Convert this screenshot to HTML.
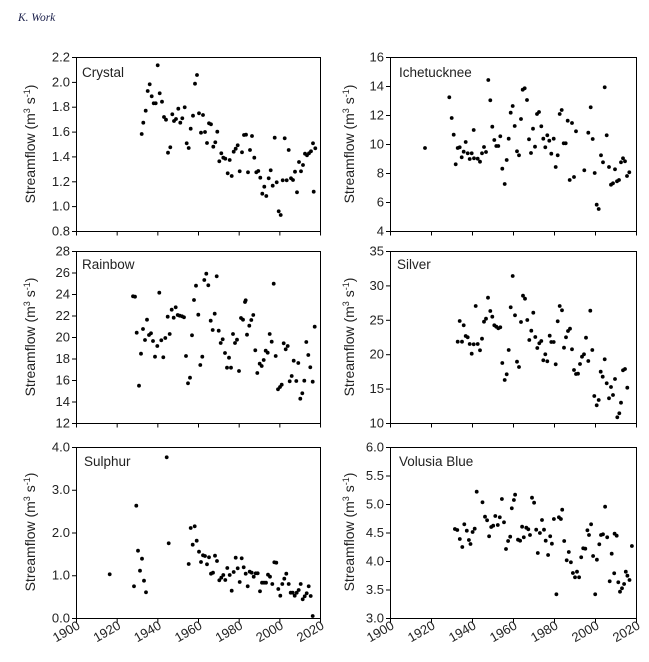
<!DOCTYPE html>
<html><head><meta charset="utf-8"><style>
html,body{margin:0;padding:0;background:#fff;}
svg{display:block;font-family:"Liberation Sans",sans-serif;}
.t{font-size:13px;fill:#222;}
.yl{font-size:14px;fill:#222;}
.nm{font-size:13.5px;fill:#222;}
</style></head><body>
<svg id="s" width="649" height="662" viewBox="0 0 649 662" xmlns="http://www.w3.org/2000/svg">
<text x="18" y="21" font-family="Liberation Serif,serif" font-style="italic" font-size="11.5" fill="#1a1f4a">K. Work</text>
<g fill="none" stroke="#000" stroke-width="1">
<rect x="76.5" y="57.5" width="244" height="174"/>
<rect x="390.5" y="57.5" width="246" height="174"/>
<rect x="76.5" y="251.5" width="244" height="172"/>
<rect x="390.5" y="251.5" width="246" height="172"/>
<rect x="76.5" y="447.5" width="244" height="171"/>
<rect x="390.5" y="447.5" width="246" height="171"/>
</g>
<g id="ticks" stroke="#000" stroke-width="1"></g>
<g id="dots" fill="#000"></g>
<!-- panel names -->
<text class="nm" x="82" y="77">Crystal</text>
<text class="nm" x="399" y="77">Ichetucknee</text>
<text class="nm" x="82" y="269">Rainbow</text>
<text class="nm" x="397" y="269">Silver</text>
<text class="nm" x="84" y="466">Sulphur</text>
<text class="nm" x="399" y="466">Volusia Blue</text>
<!-- y labels -->
<text class="yl" transform="translate(35,144) rotate(-90)" text-anchor="middle">Streamflow (m<tspan dy="-5" font-size="9">3</tspan><tspan dy="5"> s</tspan><tspan dy="-5" font-size="9">-1</tspan><tspan dy="5">)</tspan></text>
<text class="yl" transform="translate(354,144) rotate(-90)" text-anchor="middle">Streamflow (m<tspan dy="-5" font-size="9">3</tspan><tspan dy="5"> s</tspan><tspan dy="-5" font-size="9">-1</tspan><tspan dy="5">)</tspan></text>
<text class="yl" transform="translate(35,337) rotate(-90)" text-anchor="middle">Streamflow (m<tspan dy="-5" font-size="9">3</tspan><tspan dy="5"> s</tspan><tspan dy="-5" font-size="9">-1</tspan><tspan dy="5">)</tspan></text>
<text class="yl" transform="translate(354,337) rotate(-90)" text-anchor="middle">Streamflow (m<tspan dy="-5" font-size="9">3</tspan><tspan dy="5"> s</tspan><tspan dy="-5" font-size="9">-1</tspan><tspan dy="5">)</tspan></text>
<text class="yl" transform="translate(35,532) rotate(-90)" text-anchor="middle">Streamflow (m<tspan dy="-5" font-size="9">3</tspan><tspan dy="5"> s</tspan><tspan dy="-5" font-size="9">-1</tspan><tspan dy="5">)</tspan></text>
<text class="yl" transform="translate(354,532) rotate(-90)" text-anchor="middle">Streamflow (m<tspan dy="-5" font-size="9">3</tspan><tspan dy="5"> s</tspan><tspan dy="-5" font-size="9">-1</tspan><tspan dy="5">)</tspan></text>
<!-- y tick labels -->
<g class="t" text-anchor="end">
<text x="70" y="235.5">0.8</text><text x="70" y="210.6">1.0</text><text x="70" y="185.8">1.2</text><text x="70" y="160.9">1.4</text><text x="70" y="136.1">1.6</text><text x="70" y="111.2">1.8</text><text x="70" y="86.4">2.0</text><text x="70" y="61.5">2.2</text>
<text x="384" y="235.5">4</text><text x="384" y="206.5">6</text><text x="384" y="177.5">8</text><text x="384" y="148.5">10</text><text x="384" y="119.5">12</text><text x="384" y="90.5">14</text><text x="384" y="61.5">16</text>
<text x="70" y="427.5">12</text><text x="70" y="406">14</text><text x="70" y="384.5">16</text><text x="70" y="363">18</text><text x="70" y="341.5">20</text><text x="70" y="320">22</text><text x="70" y="298.5">24</text><text x="70" y="277">26</text><text x="70" y="255.5">28</text>
<text x="384" y="427.5">10</text><text x="384" y="393.1">15</text><text x="384" y="358.7">20</text><text x="384" y="324.3">25</text><text x="384" y="289.9">30</text><text x="384" y="255.5">35</text>
<text x="70" y="622.5">0.0</text><text x="70" y="579.7">1.0</text><text x="70" y="537">2.0</text><text x="70" y="494.2">3.0</text><text x="70" y="451.5">4.0</text>
<text x="384" y="622.5">3.0</text><text x="384" y="594">3.5</text><text x="384" y="565.5">4.0</text><text x="384" y="537">4.5</text><text x="384" y="508.5">5.0</text><text x="384" y="480">5.5</text><text x="384" y="451.5">6.0</text>
</g>
<!-- x tick labels -->
<g class="t" text-anchor="end">
<text transform="translate(81,628) rotate(-30)">1900</text>
<text transform="translate(121.7,628) rotate(-30)">1920</text>
<text transform="translate(162.3,628) rotate(-30)">1940</text>
<text transform="translate(203,628) rotate(-30)">1960</text>
<text transform="translate(243.7,628) rotate(-30)">1980</text>
<text transform="translate(284.3,628) rotate(-30)">2000</text>
<text transform="translate(325,628) rotate(-30)">2020</text>
<text transform="translate(395,628) rotate(-30)">1900</text>
<text transform="translate(436,628) rotate(-30)">1920</text>
<text transform="translate(477,628) rotate(-30)">1940</text>
<text transform="translate(518,628) rotate(-30)">1960</text>
<text transform="translate(559,628) rotate(-30)">1980</text>
<text transform="translate(600,628) rotate(-30)">2000</text>
<text transform="translate(641,628) rotate(-30)">2020</text>
</g>
</svg>
<script>
(function(){
var NS="http://www.w3.org/2000/svg";
var tk=document.getElementById("ticks"),dg=document.getElementById("dots");
function L(x1,y1,x2,y2){var l=document.createElementNS(NS,"line");l.setAttribute("x1",x1);l.setAttribute("y1",y1);l.setAttribute("x2",x2);l.setAttribute("y2",y2);tk.appendChild(l);}
var yt={L1:[231,206.1,181.3,156.4,131.6,106.7,81.9,57],R1:[231,202,173,144,115,86,57],L2:[423,401.5,380,358.5,337,315.5,294,272.5,251],R2:[423,388.6,354.2,319.8,285.4,251],L3:[618,575.25,532.5,489.75,447],R3:[618,589.5,561,532.5,504,475.5,447]};
function yticks(x,a){a.forEach(function(y){L(x-4,y+.5,x+.5,y+.5);});}
yticks(76,yt.L1);yticks(390,yt.R1);yticks(76,yt.L2);yticks(390,yt.R2);yticks(76,yt.L3);yticks(390,yt.R3);
[231.5,423.5,618.5].forEach(function(y){for(var i=0;i<7;i++){var xl=76.5+i*40.67,xr=390.5+i*41;L(xl,y,xl,y+4);L(xr,y,xr,y+4);}});
function dots(ox,oy,sx,sy,pts){pts.forEach(function(p){var c=document.createElementNS(NS,"circle");c.setAttribute("cx",(ox+p[0]*sx).toFixed(1));c.setAttribute("cy",(oy+p[1]*sy).toFixed(1));c.setAttribute("r","1.9");dg.appendChild(c);});}
var t=1/3;
dots(0,40,t,t,[[425,282],[430,248],[437,212],[443,153],[449,133],[455,169],[461,190],[467,190],[473,76],[479,160],[486,185],[492,231],[498,239],[504,338],[511,322],[517,223],[522,243],[528,237],[535,206],[541,248],[547,235],[554,202],[560,310],[566,324],[572,266],[579,227],[585,131],[591,105],[597,220],[603,278],[609,225],[615,276],[621,309],[627,250],[633,253],[640,320],[646,307],[652,275],[658,364],[664,340],[670,353],[676,356],[683,400],[689,360],[695,408],[701,335],[707,326],[713,316],[719,394],[726,337],[732,285],[738,284],[744,397],[750,330],[756,288],[763,353],[769,397],[775,393],[781,413],[787,461],[793,440],[799,468],[806,415],[812,391],[818,437],[824,293],[830,427],[836,514],[842,525],[848,421],[854,295],[860,421],[866,330],[873,415],[879,420],[885,395],[891,457],[897,366],[903,394],[909,375],[915,341],[921,346],[927,340],[933,334],[939,310],[941,455],[946,325]]);
dots(300,40,t,t,[[375,324],[448,172],[455,234],[461,284],[467,373],[473,324],[479,322],[485,352],[491,335],[497,306],[503,340],[509,357],[515,340],[521,270],[522,355],[533,356],[540,365],[546,340],[552,321],[558,336],[565,120],[571,181],[577,260],[583,300],[589,318],[595,318],[601,289],[607,386],[614,432],[620,360],[626,296],[632,218],[638,198],[644,258],[651,334],[657,346],[663,237],[668,149],[674,145],[681,180],[687,298],[693,339],[699,266],[705,320],[711,222],[717,216],[724,259],[730,296],[736,322],[742,286],[748,302],[754,341],[761,296],[767,381],[773,346],[779,222],[785,210],[791,310],[797,310],[803,242],[809,420],[816,249],[822,411],[828,274],[853,391],[865,278],[872,202],[878,297],[884,399],[890,494],[896,507],[903,346],[909,367],[914,142],[920,286],[927,381],[933,434],[939,430],[945,388],[951,424],[957,420],[963,367],[969,355],[975,364],[981,408],[988,397]]);
dots(0,220,t,t,[[399,229],[405,230],[410,338],[417,497],[423,401],[429,327],[435,360],[441,299],[447,345],[453,340],[459,363],[465,410],[472,378],[478,218],[484,361],[490,412],[496,354],[503,290],[509,342],[515,269],[521,293],[527,262],[533,285],[539,287],[546,289],[552,292],[558,408],[564,490],[570,473],[576,346],[582,240],[588,197],[595,284],[601,435],[607,410],[613,180],[619,161],[625,196],[632,302],[638,330],[644,281],[650,169],[656,332],[662,369],[668,358],[675,399],[681,443],[687,413],[693,443],[699,342],[705,369],[711,359],[717,453],[723,294],[729,299],[735,246],[737,241],[741,344],[748,317],[754,300],[760,285],[766,391],[772,459],[779,431],[785,438],[791,420],[797,392],[803,398],[809,342],[815,365],[821,191],[827,408],[834,508],[840,501],[845,494],[851,370],[857,388],[863,378],[869,484],[875,468],[881,422],[889,483],[895,429],[901,536],[907,520],[913,482],[919,366],[925,405],[931,442],[938,485],[944,320]]);
dots(300,220,t,t,[[473,365],[479,303],[486,365],[491,316],[497,348],[503,352],[509,372],[515,401],[521,373],[527,258],[533,372],[540,391],[546,356],[552,305],[558,296],[564,233],[571,273],[577,290],[583,316],[589,320],[595,325],[601,322],[607,429],[614,480],[620,463],[626,390],[632,262],[638,168],[645,286],[651,425],[657,441],[663,306],[669,227],[675,236],[682,300],[688,360],[694,332],[700,278],[706,351],[712,384],[718,370],[724,363],[730,421],[736,403],[742,424],[749,347],[754,366],[761,366],[767,433],[773,304],[779,258],[786,271],[792,383],[798,352],[804,333],[810,326],[816,388],[822,450],[828,462],[834,461],[840,432],[846,410],[852,403],[858,353],[865,423],[871,272],[877,390],[883,528],[890,556],[896,540],[902,455],[908,470],[914,418],[920,490],[927,535],[933,501],[939,525],[945,477],[952,592],[958,580],[963,548],[969,451],[975,447],[982,503]]);
dots(0,400,t,t,[[329,523],[402,559],[409,317],[414,452],[420,512],[426,476],[432,542],[438,577],[500,172],[506,430],[566,492],[572,384],[578,434],[584,379],[590,422],[597,455],[603,486],[609,466],[615,468],[621,493],[627,472],[633,521],[639,518],[645,467],[651,483],[658,541],[664,533],[670,525],[676,540],[682,504],[689,525],[695,572],[701,516],[707,473],[713,505],[719,546],[725,475],[731,502],[737,521],[743,559],[749,515],[755,518],[761,530],[767,520],[773,520],[780,574],[786,548],[792,548],[798,548],[804,524],[810,530],[817,552],[823,487],[829,488],[835,567],[841,587],[847,552],[853,536],[859,521],[866,552],[872,578],[878,578],[884,587],[890,578],[896,570],[902,552],[908,598],[914,589],[920,580],[926,559],[932,588],[938,648]]);
dots(1.6,400,0.4128,t,[[1098,387],[1104,390],[1110,417],[1116,441],[1121,373],[1127,392],[1132,420],[1136,432],[1141,396],[1146,386],[1151,275],[1165,307],[1171,350],[1176,361],[1181,409],[1186,381],[1191,377],[1196,348],[1202,375],[1207,352],[1212,297],[1217,367],[1222,447],[1227,423],[1232,410],[1236,325],[1241,300],[1244,284],[1251,419],[1256,422],[1261,380],[1265,412],[1271,383],[1276,388],[1280,405],[1285,293],[1290,308],[1295,389],[1299,459],[1304,399],[1309,360],[1314,389],[1318,422],[1324,465],[1329,409],[1333,431],[1338,357],[1344,583],[1350,352],[1355,357],[1358,329],[1363,423],[1369,481],[1374,456],[1379,487],[1384,519],[1389,532],[1394,515],[1399,532],[1404,472],[1409,445],[1414,446],[1419,391],[1423,405],[1428,373],[1433,468],[1438,583],[1442,479],[1448,433],[1452,405],[1457,403],[1462,320],[1467,412],[1473,544],[1478,461],[1484,520],[1485,401],[1490,407],[1494,547],[1498,575],[1503,565],[1508,552],[1512,515],[1516,527],[1521,540],[1527,438]]);
})();
</script>
</body></html>
